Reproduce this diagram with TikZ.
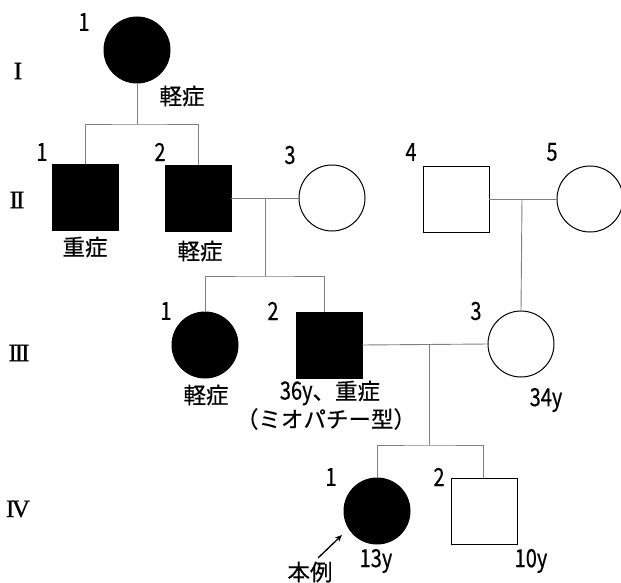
\documentclass[tikz,border=0pt]{standalone}
\usepackage{fontspec}
\newfontfamily\cjk[FakeBold=0.4]{Noto Sans CJK JP}
\newfontfamily\numfont[FakeStretch=0.8,FakeBold=0.4]{Noto Sans CJK JP}
\newfontfamily\romfont[FakeBold=0.8]{Liberation Serif}
\usetikzlibrary{arrows.meta}
\begin{document}
\begin{tikzpicture}[x=1pt,y=-1pt,
  person/.style={draw=black,line width=1pt,inner sep=0pt,outer sep=0pt,minimum size=66pt},
  fem/.style={person,circle},
  mal/.style={person,rectangle},
  aff/.style={fill=black},
  link/.style={draw=black!50,line width=0.9pt},
  jtxt/.style={font=\fontsize{22.5}{24}\cjk,inner sep=0pt},
  ntxt/.style={font=\fontsize{25}{26}\numfont,inner sep=0pt},
  gen/.style={font=\fontsize{25}{26}\romfont,inner sep=0pt}]
\useasboundingbox (0,0) rectangle (621,583);
% generation labels
\node[gen] (gI) at (18,71) {I};
\node[gen] (gII) at (17,200) {I\kern-2pt I};
\node[gen] (gIII) at (19,353) {I\kern-2pt I\kern-2pt I};
\node[gen] (gIV) at (18,509) {I\kern-2.5pt V};
% persons
\node[fem,aff] (I1) at (137,50) {};
\node[mal,aff] (II1) at (85,197) {};
\node[mal,aff] (II2) at (198,198) {};
\node[fem] (II3) at (332,198) {};
\node[mal] (II4) at (456,199) {};
\node[fem] (II5) at (590,199) {};
\node[fem,aff] (III1) at (205,345) {};
\node[mal,aff] (III2) at (329,345) {};
\node[fem] (III3) at (521,344) {};
\node[fem,aff] (IV1) at (377,511) {};
\node[mal] (IV2) at (484,511) {};
% numbers
\node[ntxt] (n1) at (84,22) {1};
\node[ntxt] (n2) at (42,152) {1};
\node[ntxt] (n3) at (160,152) {2};
\node[ntxt] (n4) at (290,155) {3};
\node[ntxt] (n5) at (411,152) {4};
\node[ntxt] (n6) at (552,152) {5};
\node[ntxt] (n7) at (166,311) {1};
\node[ntxt] (n8) at (273,311) {2};
\node[ntxt] (n9) at (476,311) {3};
\node[ntxt] (n10) at (331,477) {1};
\node[ntxt] (n11) at (439,477) {2};
% annotations
\node[jtxt] (t1) at (182,96) {軽症};
\node[jtxt] (t2) at (85,247) {重症};
\node[jtxt] (t3) at (200,251) {軽症};
\node[jtxt] (t4) at (206,395) {軽症};
\node[jtxt] (t5) at (330,393) {{\fontsize{25}{26}\numfont 36y}、重症};
\node[jtxt] (t6) at (326,419) {（ミオパチー型）};
\node[ntxt] (t7) at (546,400) {34y};
\node[ntxt] (t8) at (376,561) {13y};
\node[ntxt] (t9) at (531,561) {10y};
\node[jtxt] (t10) at (310,572) {本例};
% connectors
\coordinate (s1) at (137,124);
\draw[link] (I1.south) -- (s1);
\draw[link] (II1.north) |- (s1) -| (II2.north);
\draw[link] (II2.east) -- (II3.west);
\coordinate (m2) at (265,198);
\coordinate (s2) at (265,276);
\draw[link] (m2) -- (s2);
\draw[link] (III1.north) |- (s2) -| ([xshift=-5pt]III2.north);
\draw[link] (II4.east) -- (II5.west);
\coordinate (m3) at (522,199);
\draw[link] (m3) -- (III3.north);
\draw[link] (III2.east) -- (III3.west);
\coordinate (m4) at (429,345);
\coordinate (s4) at (429,445);
\draw[link] (m4) -- (s4);
\draw[link] (IV1.north) |- (s4) -| ([xshift=-1pt]IV2.north);
% proband arrow
\coordinate (arrS) at (318,558);
\coordinate (arrE) at (342,535);
\draw[line width=1.3pt,-{Stealth[length=7pt,width=6pt]}] (arrS) -- (arrE);
\end{tikzpicture}
\end{document}
